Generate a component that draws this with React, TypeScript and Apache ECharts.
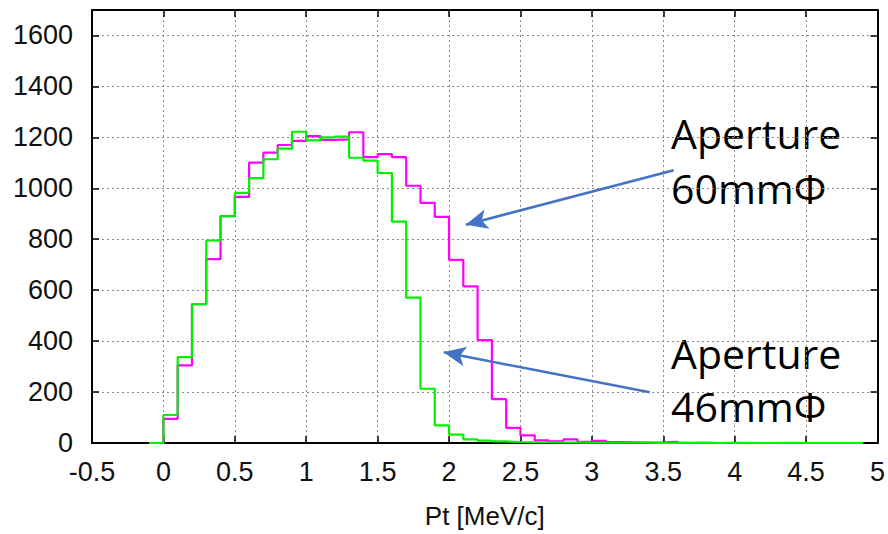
import React, { useEffect, useRef } from "react";
import * as echarts from "echarts";

// Histogram bins (left edges, MeV/c), bin width 0.1
const binStarts = [
  -0.1, 0.0, 0.1, 0.2, 0.3, 0.4, 0.5, 0.6, 0.7, 0.8, 0.9,
  1.0, 1.1, 1.2, 1.3, 1.4, 1.5, 1.6, 1.7, 1.8, 1.9,
  2.0, 2.1, 2.2, 2.3, 2.4, 2.5, 2.6, 2.7, 2.8, 2.9,
  3.0, 3.1, 3.2, 3.3, 3.4, 3.5, 3.6, 3.7, 3.8, 3.9,
  4.0, 4.1, 4.2, 4.3, 4.4, 4.5, 4.6, 4.7, 4.8,
];
const binWidth = 0.1;

// Aperture 60mmΦ (magenta)
const aperture60 = [
  0, 95, 305, 545, 722, 891, 966, 1101, 1140, 1170, 1186,
  1205, 1190, 1192, 1220, 1122, 1134, 1122, 1010, 943, 888,
  719, 615, 404, 172, 59, 30, 10, 6, 14, 5,
  8, 4, 3, 2, 3, 5, 1, 1, 0, 1,
  0, 0, 0, 1, 0, 0, 0, 0, 0,
];

// Aperture 46mmΦ (green)
const aperture46 = [
  0, 110, 337, 545, 795, 891, 982, 1040, 1114, 1156, 1222,
  1188, 1200, 1203, 1120, 1109, 1060, 869, 571, 213, 69,
  33, 14, 9, 6, 4, 3, 3, 2, 2, 1,
  1, 1, 1, 1, 0, 1, 0, 1, 0, 0,
  1, 0, 0, 0, 0, 0, 0, 0, 0,
];

const xTicks = [-0.5, 0, 0.5, 1, 1.5, 2, 2.5, 3, 3.5, 4, 4.5, 5];
const yTicks = [0, 200, 400, 600, 800, 1000, 1200, 1400, 1600];

const labelFont = "'Liberation Sans', Arial, sans-serif";
const annotFont = "'Open Sans', 'Noto Sans', sans-serif";

function stepData(values: number[]) {
  const pts: [number, number][] = binStarts.map((x, i) => [x, values[i]]);
  const last = binStarts.length - 1;
  pts.push([binStarts[last] + binWidth, values[last]]);
  return pts;
}

export default function App() {
  const ref = useRef<HTMLDivElement>(null);
  useEffect(() => {
    if (!ref.current) return;
    const chart = echarts.init(ref.current, undefined, { renderer: "svg" });
    const gridLine = { show: true, lineStyle: { color: "#8a8a8a", width: 1, type: [2, 3] as any } };
    const tick = { show: true, inside: true, length: 7, lineStyle: { color: "#000", width: 1.5 } };
    const axisLine = { show: true, onZero: false, lineStyle: { color: "#000", width: 2 } };
    const arrowStyle = { color: "#4472C4", width: 2.5, type: "solid" as const };
    const annot = (text: string, top: number) => ({
      type: "text",
      left: 671,
      top,
      style: { text, font: `41px ${annotFont}`, fill: "#000" },
    });
    chart.setOption({
      animation: false,
      backgroundColor: "#fff",
      grid: { left: 92, right: 10, top: 10, bottom: 89, containLabel: false },
      xAxis: [
        {
          type: "value",
          min: xTicks[0],
          max: xTicks[xTicks.length - 1],
          interval: 0.5,
          position: "bottom",
          name: "Pt [MeV/c]",
          nameLocation: "middle",
          nameGap: 60,
          nameTextStyle: { fontFamily: labelFont, fontSize: 26, color: "#111" },
          axisLine,
          axisTick: tick,
          splitLine: gridLine,
          axisLabel: {
            fontFamily: labelFont,
            fontSize: 27,
            color: "#111",
            margin: 15,
            formatter: (v: number) => String(v),
          },
        },
        {
          type: "value",
          min: xTicks[0],
          max: xTicks[xTicks.length - 1],
          interval: 0.5,
          position: "top",
          axisLine,
          axisTick: tick,
          splitLine: { show: false },
          axisLabel: { show: false },
        },
      ],
      yAxis: [
        {
          type: "value",
          min: 0,
          max: 1700,
          interval: 200,
          position: "left",
          axisLine,
          axisTick: tick,
          splitLine: gridLine,
          axisLabel: {
            fontFamily: labelFont,
            fontSize: 27,
            color: "#111",
            margin: 19,
            showMaxLabel: false,
            formatter: (v: number) => (yTicks.includes(v) ? String(v) : ""),
          },
        },
        {
          type: "value",
          min: 0,
          max: 1700,
          interval: 200,
          position: "right",
          axisLine,
          axisTick: tick,
          splitLine: { show: false },
          axisLabel: { show: false },
        },
      ],
      series: [
        {
          name: "Aperture 60mmΦ",
          type: "line",
          step: "end",
          data: stepData(aperture60),
          symbol: "none",
          lineStyle: { color: "#FF00FF", width: 2.2 },
          z: 2,
          markLine: {
            silent: true,
            symbol: ["none", "arrow"],
            symbolSize: [15, 22],
            label: { show: false },
            lineStyle: arrowStyle,
            data: [
              [
                { coord: [3.573, 1071] },
                { coord: [2.117, 857] },
              ],
            ],
          },
        },
        {
          name: "Aperture 46mmΦ",
          type: "line",
          step: "end",
          data: stepData(aperture46),
          symbol: "none",
          lineStyle: { color: "#00F000", width: 2.2 },
          z: 3,
          markLine: {
            silent: true,
            symbol: ["none", "arrow"],
            symbolSize: [15, 22],
            label: { show: false },
            lineStyle: arrowStyle,
            data: [
              [
                { coord: [3.405, 199] },
                { coord: [1.963, 356] },
              ],
            ],
          },
        },
      ],
      graphic: [
        annot("Aperture", 112),
        annot("60mmΦ", 167),
        annot("Aperture", 332),
        annot("46mmΦ", 385),
      ],
    });
    return () => chart.dispose();
  }, []);
  return <div ref={ref} style={{ width: 888, height: 534, position: "absolute", left: 0, top: 0 }} />;
}
